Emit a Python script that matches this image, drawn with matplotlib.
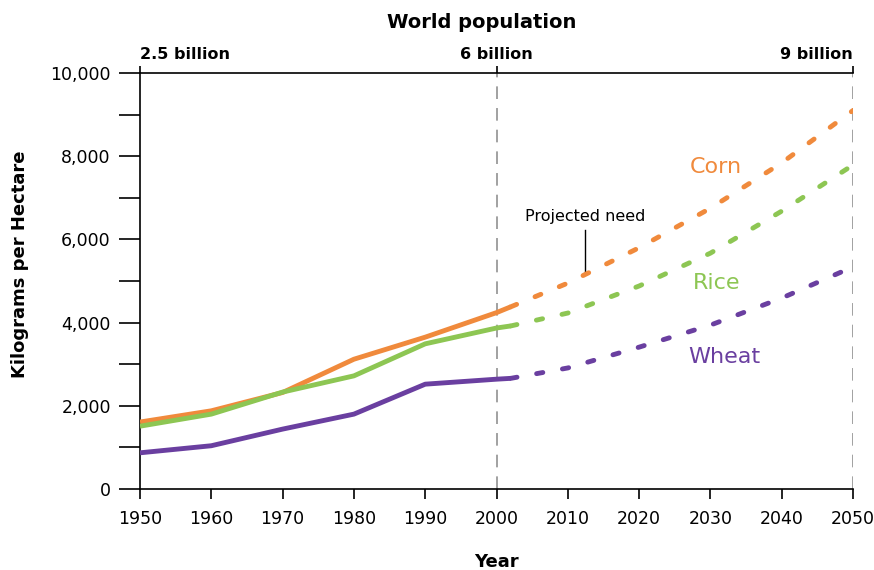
import numpy as np
import matplotlib
matplotlib.use("Agg")
import matplotlib.pyplot as plt

plt.rcParams['font.family'] = ['Liberation Sans Narrow', 'DejaVu Sans']

# observed yields (kg per hectare)
years = [1950, 1960, 1970, 1980, 1990, 2000, 2002]
corn = [1610, 1880, 2320, 3120, 3650, 4240, 4380]
rice = [1510, 1800, 2330, 2720, 3490, 3870, 3920]
wheat = [870, 1040, 1440, 1800, 2520, 2640, 2660]

# projected need
proj_years = [2002, 2010, 2020, 2030, 2040, 2050]
corn_proj = [4380, 4950, 5800, 6750, 7840, 9100]
rice_proj = [3920, 4230, 4880, 5670, 6680, 7790]
wheat_proj = [2660, 2910, 3410, 3940, 4590, 5340]

pop_years = [1950, 2000, 2050]
pop_labels = ['2.5 billion', '6 billion', '9 billion']

c_corn = '#F08A3C'
c_rice = '#8DC653'
c_wheat = '#6A3FA0'

fig = plt.figure(figsize=(8.74, 5.70), dpi=100)
ax = fig.add_axes([0.1602, 0.1421, 0.976 - 0.1602, 0.8719 - 0.1421])

for yr in [2000, 2050]:
    ax.plot([yr, yr], [0, 10000], color='#9a9a9a', lw=1.3, dashes=(7, 5), zorder=1)

for vals, proj, c in [(corn, corn_proj, c_corn), (rice, rice_proj, c_rice), (wheat, wheat_proj, c_wheat)]:
    ax.plot(years, vals, color=c, lw=3.5, solid_capstyle='butt', zorder=3)
    ax.plot(proj_years, proj, color=c, lw=3.5, dashes=(1.3, 4.1), dash_capstyle='round', zorder=3)

ax.set_xlim(1950, 2050)
ax.set_ylim(0, 10000)
ax.set_xticks(range(1950, 2051, 10))
ax.set_yticks(range(0, 10001, 2000))
ax.set_yticks(range(1000, 10000, 2000), minor=True)
ax.set_yticklabels(['{:,}'.format(v) for v in range(0, 10001, 2000)])
ax.tick_params(axis='y', which='both', length=15, width=1.2, direction='out', labelsize=12.5, pad=6)
ax.tick_params(axis='x', length=7, width=1.2, direction='out', labelsize=12.5, pad=8)

ax.spines['right'].set_visible(False)
for s in ['left', 'bottom', 'top']:
    ax.spines[s].set_linewidth(1.2)

ax.set_xlabel('Year', fontsize=13, fontweight='bold', labelpad=18)
fig.text(0.0229, 0.537, 'Kilograms per Hectare', fontsize=13, fontweight='bold',
         rotation=90, ha='center', va='center')

top = ax.secondary_xaxis('top')
top.set_xticks(pop_years)
top.set_xticklabels(pop_labels, fontsize=11.5, fontweight='bold')
top.tick_params(length=5, width=1.2, pad=3)
labs = top.get_xticklabels()
labs[0].set_ha('left')
labs[2].set_ha('right')
top.spines['top'].set_visible(False)
fig.text(0.5515, 0.9614, 'World population', fontsize=14, fontweight='bold',
         ha='center', va='center')

ax.text(2030.8, 7740, 'Corn', color=c_corn, fontsize=16, ha='center', va='center')
ax.text(2030.8, 4950, 'Rice', color=c_rice, fontsize=16, ha='center', va='center')
ax.text(2032, 3170, 'Wheat', color=c_wheat, fontsize=16, ha='center', va='center')

ax.text(2012.4, 6560, 'Projected need', fontsize=11.5, ha='center', va='center')
ax.plot([2012.4, 2012.4], [5220, 6230], color='black', lw=1)

fig.savefig('out.png', dpi=100)
